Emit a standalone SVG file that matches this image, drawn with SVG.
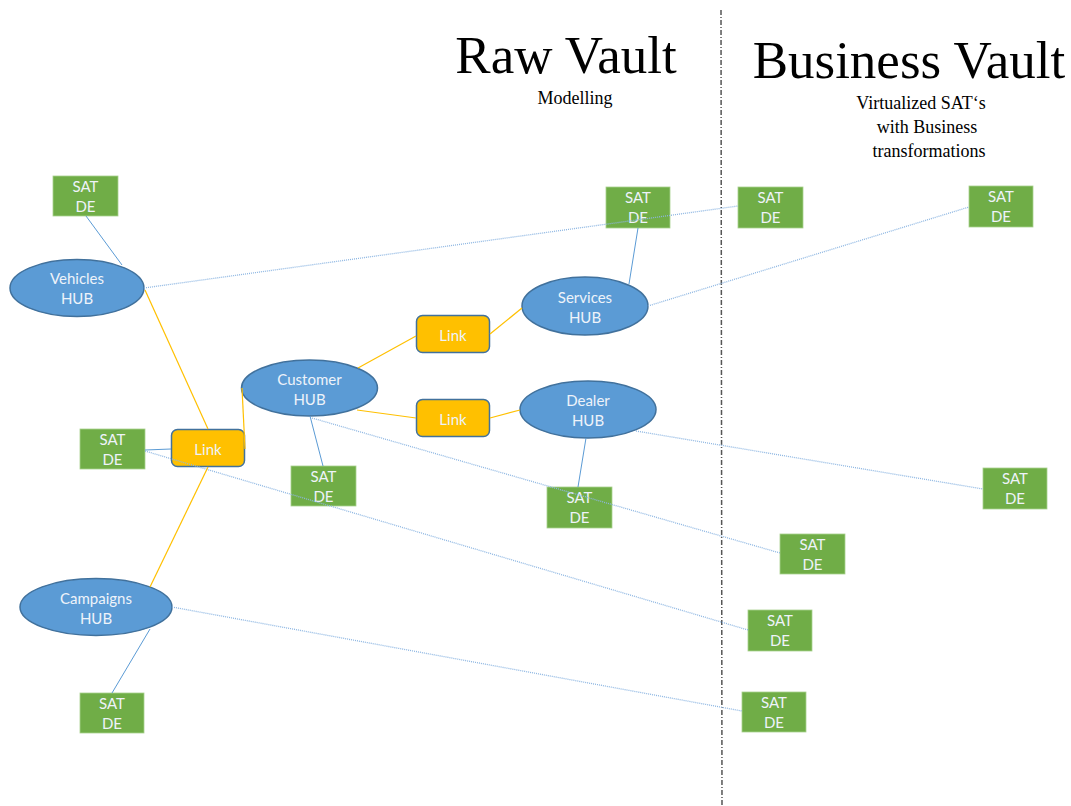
<svg xmlns="http://www.w3.org/2000/svg" width="1071" height="806" viewBox="0 0 1071 806">
<style>
.hub{fill:#5B9BD5;stroke:#41719C;stroke-width:1.5}
.link{fill:#FFC000;stroke:#41719C;stroke-width:1.5}
.sat{fill:#70AD47;stroke:#A9D18E;stroke-width:0.8}
.nt{font-family:Lato,"Open Sans",sans-serif;font-size:15px;fill:#EEF3FA;text-anchor:middle}
.title{font-family:"Liberation Serif",serif;font-size:53px;fill:#000;text-anchor:middle}
.sub{font-family:"Liberation Serif",serif;font-size:18px;fill:#000;text-anchor:middle}
.solid{stroke:#5B9BD5;stroke-width:1;fill:none}
.dot{stroke:#8DB6E2;stroke-width:1.3;stroke-dasharray:1 1;fill:none}
.or{stroke:#FFC000;stroke-width:1.2;fill:none}
</style>
<rect width="1071" height="806" fill="#fff"/>
<g id="titles">
<text class="title" x="566" y="73">Raw Vault</text>
<text class="sub" x="575" y="104">Modelling</text>
<text class="title" x="909" y="78">Business Vault</text>
<text class="sub" x="921" y="109">Virtualized SAT‘s</text>
<text class="sub" x="927" y="133">with Business</text>
<text class="sub" x="929" y="157">transformations</text>
</g>
<line id="divider" x1="721" y1="10" x2="722" y2="806" stroke="#555" stroke-width="1.5" stroke-dasharray="5 2 1 2"/>
<g id="node-vehicles"><ellipse class="hub" cx="77" cy="288" rx="67" ry="28.5"/><text class="nt" x="77" y="284">Vehicles</text><text class="nt" x="77" y="304">HUB</text></g>
<g id="node-customer"><ellipse class="hub" cx="309.5" cy="388" rx="68" ry="28"/><text class="nt" x="309.5" y="385">Customer</text><text class="nt" x="309.5" y="405">HUB</text></g>
<g id="node-services"><ellipse class="hub" cx="585" cy="306" rx="63" ry="29"/><text class="nt" x="585" y="303">Services</text><text class="nt" x="585" y="323">HUB</text></g>
<g id="node-dealer"><ellipse class="hub" cx="588" cy="409.5" rx="68" ry="28.5"/><text class="nt" x="588" y="406">Dealer</text><text class="nt" x="588" y="426">HUB</text></g>
<g id="node-campaigns"><ellipse class="hub" cx="96" cy="607" rx="76" ry="28.5"/><text class="nt" x="96" y="604">Campaigns</text><text class="nt" x="96" y="624">HUB</text></g>
<g id="node-link1"><rect class="link" x="171.5" y="429.5" width="73" height="37" rx="6"/><text class="nt" x="208" y="455">Link</text></g>
<g id="node-link2"><rect class="link" x="416.5" y="315.5" width="73" height="37" rx="6"/><text class="nt" x="453" y="341">Link</text></g>
<g id="node-link3"><rect class="link" x="416.5" y="399.5" width="73" height="37" rx="6"/><text class="nt" x="453" y="425">Link</text></g>
<g id="sat-vehicles"><rect class="sat" x="53" y="176" width="65" height="40"/><text class="nt" x="85.5" y="192">SAT</text><text class="nt" x="85.5" y="212">DE</text></g>
<g id="sat-services"><rect class="sat" x="606" y="187" width="64" height="41"/><text class="nt" x="638" y="203">SAT</text><text class="nt" x="638" y="223">DE</text></g>
<g id="sat-bv-vehicles"><rect class="sat" x="738" y="187" width="65" height="41"/><text class="nt" x="770.5" y="203">SAT</text><text class="nt" x="770.5" y="223">DE</text></g>
<g id="sat-bv-services"><rect class="sat" x="969" y="186" width="64" height="41"/><text class="nt" x="1001" y="202">SAT</text><text class="nt" x="1001" y="222">DE</text></g>
<g id="sat-link"><rect class="sat" x="80" y="429" width="65" height="40"/><text class="nt" x="112.5" y="445">SAT</text><text class="nt" x="112.5" y="465">DE</text></g>
<g id="sat-customer"><rect class="sat" x="291" y="466" width="65" height="40"/><text class="nt" x="323.5" y="482">SAT</text><text class="nt" x="323.5" y="502">DE</text></g>
<g id="sat-dealer"><rect class="sat" x="547" y="487" width="65" height="41"/><text class="nt" x="579.5" y="503">SAT</text><text class="nt" x="579.5" y="523">DE</text></g>
<g id="sat-bv-dealer"><rect class="sat" x="983" y="468" width="64" height="41"/><text class="nt" x="1015" y="484">SAT</text><text class="nt" x="1015" y="504">DE</text></g>
<g id="sat-bv-customer"><rect class="sat" x="780" y="534" width="65" height="40"/><text class="nt" x="812.5" y="550">SAT</text><text class="nt" x="812.5" y="570">DE</text></g>
<g id="sat-bv-link"><rect class="sat" x="748" y="610" width="64" height="41"/><text class="nt" x="780" y="626">SAT</text><text class="nt" x="780" y="646">DE</text></g>
<g id="sat-bv-campaigns"><rect class="sat" x="742" y="692" width="64" height="40"/><text class="nt" x="774" y="708">SAT</text><text class="nt" x="774" y="728">DE</text></g>
<g id="sat-campaigns"><rect class="sat" x="80" y="693" width="64" height="40"/><text class="nt" x="112" y="709">SAT</text><text class="nt" x="112" y="729">DE</text></g>
<g id="connectors">
<line class="solid" x1="86" y1="216" x2="122" y2="265"/>
<line class="solid" x1="638" y1="228" x2="629" y2="284"/>
<line class="solid" x1="310" y1="416" x2="323" y2="466"/>
<line class="solid" x1="586" y1="438" x2="578" y2="487"/>
<line class="solid" x1="150" y1="629" x2="112" y2="693"/>
<line class="solid" x1="145" y1="450" x2="171" y2="449"/>
<line class="dot" x1="144" y1="288" x2="738" y2="206"/>
<line class="dot" x1="648" y1="306" x2="969" y2="207"/>
<line class="dot" x1="312" y1="418" x2="780" y2="553"/>
<line class="dot" x1="636" y1="431" x2="983" y2="489"/>
<line class="dot" x1="145" y1="451" x2="748" y2="630"/>
<line class="dot" x1="172" y1="607" x2="742" y2="711"/>
<line class="or" x1="145" y1="290" x2="208" y2="429"/>
<line class="or" x1="242" y1="388" x2="245" y2="449"/>
<line class="or" x1="208" y1="467" x2="150" y2="587"/>
<line class="or" x1="358" y1="368" x2="416" y2="336"/>
<line class="or" x1="490" y1="334" x2="522" y2="308"/>
<line class="or" x1="357" y1="410" x2="416" y2="418"/>
<line class="or" x1="490" y1="418" x2="520" y2="410"/>
</g>
</svg>
